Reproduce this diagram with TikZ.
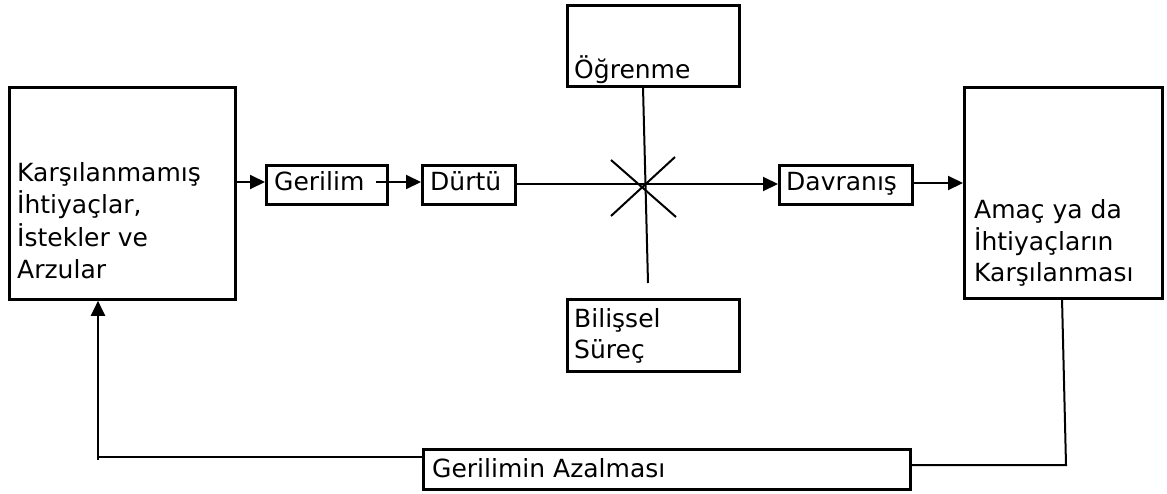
\documentclass[tikz,border=0pt]{standalone}
\usepackage{fontspec}
\setmainfont{DejaVu Sans}
\usetikzlibrary{arrows.meta}
\begin{document}
\begin{tikzpicture}[x=1pt,y=-1pt,
  box/.style={draw,line width=2.8pt,rectangle,inner sep=0pt,anchor=north west},
  txt/.style={anchor=base west,inner sep=0pt,font=\fontsize{25}{32}\selectfont},
  conn/.style={line width=2pt},
  arr/.style={conn,-{Triangle[length=15pt,width=14pt]}}]
\useasboundingbox (0,0) rectangle (1167,493);
% boxes
\node[box,minimum width=226pt,minimum height=212pt] (need) at (8,86) {};
\node[box,minimum width=121pt,minimum height=39pt] (ger) at (265,164) {};
\node[box,minimum width=93pt,minimum height=39pt] (durtu) at (421,164) {};
\node[box,minimum width=172pt,minimum height=81pt] (ogr) at (566,4) {};
\node[box,minimum width=172pt,minimum height=72pt] (bil) at (566,298) {};
\node[box,minimum width=133pt,minimum height=39pt] (dav) at (778,164) {};
\node[box,minimum width=198pt,minimum height=211pt] (goal) at (963,86) {};
\node[box,minimum width=487pt,minimum height=40pt] (azal) at (422,448) {};
% texts
\node[txt] (t1) at (17,181) {Karşılanmamış};
\node[txt] (t2) at (17,213) {İhtiyaçlar,};
\node[txt] (t3) at (17,246) {İstekler ve};
\node[txt] (t4) at (17,278) {Arzular};
\node[txt] (t5) at (274,190) {Gerilim};
\node[txt] (t6) at (430,190) {Dürtü};
\node[txt] (t7) at (574,78) {Öğrenme};
\node[txt] (t8) at (574,327) {Bilişsel};
\node[txt] (t9) at (574,358) {Süreç};
\node[txt] (t10) at (786,190) {Davranış};
\node[txt] (t11) at (974,218) {Amaç ya da};
\node[txt] (t12) at (974,250) {İhtiyaçların};
\node[txt] (t13) at (974,281) {Karşılanması};
\node[txt] (t14) at (432,477) {Gerilimin Azalması};
% coordinates
\coordinate (gs) at (376,182);
\coordinate (vt) at (643,87);
\coordinate (vb) at (648,283);
\coordinate (x1) at (611,160);
\coordinate (x2) at (676,217);
\coordinate (x3) at (675,157);
\coordinate (x4) at (611,216);
\coordinate (rt) at (1062,298);
\coordinate (rc) at (1066,465);
\coordinate (lc) at (98,457);
\coordinate (lb) at (98,460);
% connectors
\draw[arr] (need.east |- gs) -- (ger.west |- gs);
\draw[arr] (gs) -- (durtu.west |- gs);
\draw[arr] (durtu.east |- 0,184) -- (dav.west |- 0,184);
\draw[arr] (dav.east |- 0,183) -- (goal.west |- 0,183);
\draw[conn] (vt) -- (vb);
\draw[conn] (x1) -- (x2);
\draw[conn] (x3) -- (x4);
\draw[conn] (rt) -- (rc) -- (azal.east |- rc);
\draw[conn] (azal.west |- lc) -- (lc);
\draw[arr] (lb) -- (need.south -| lb);
\end{tikzpicture}
\end{document}
